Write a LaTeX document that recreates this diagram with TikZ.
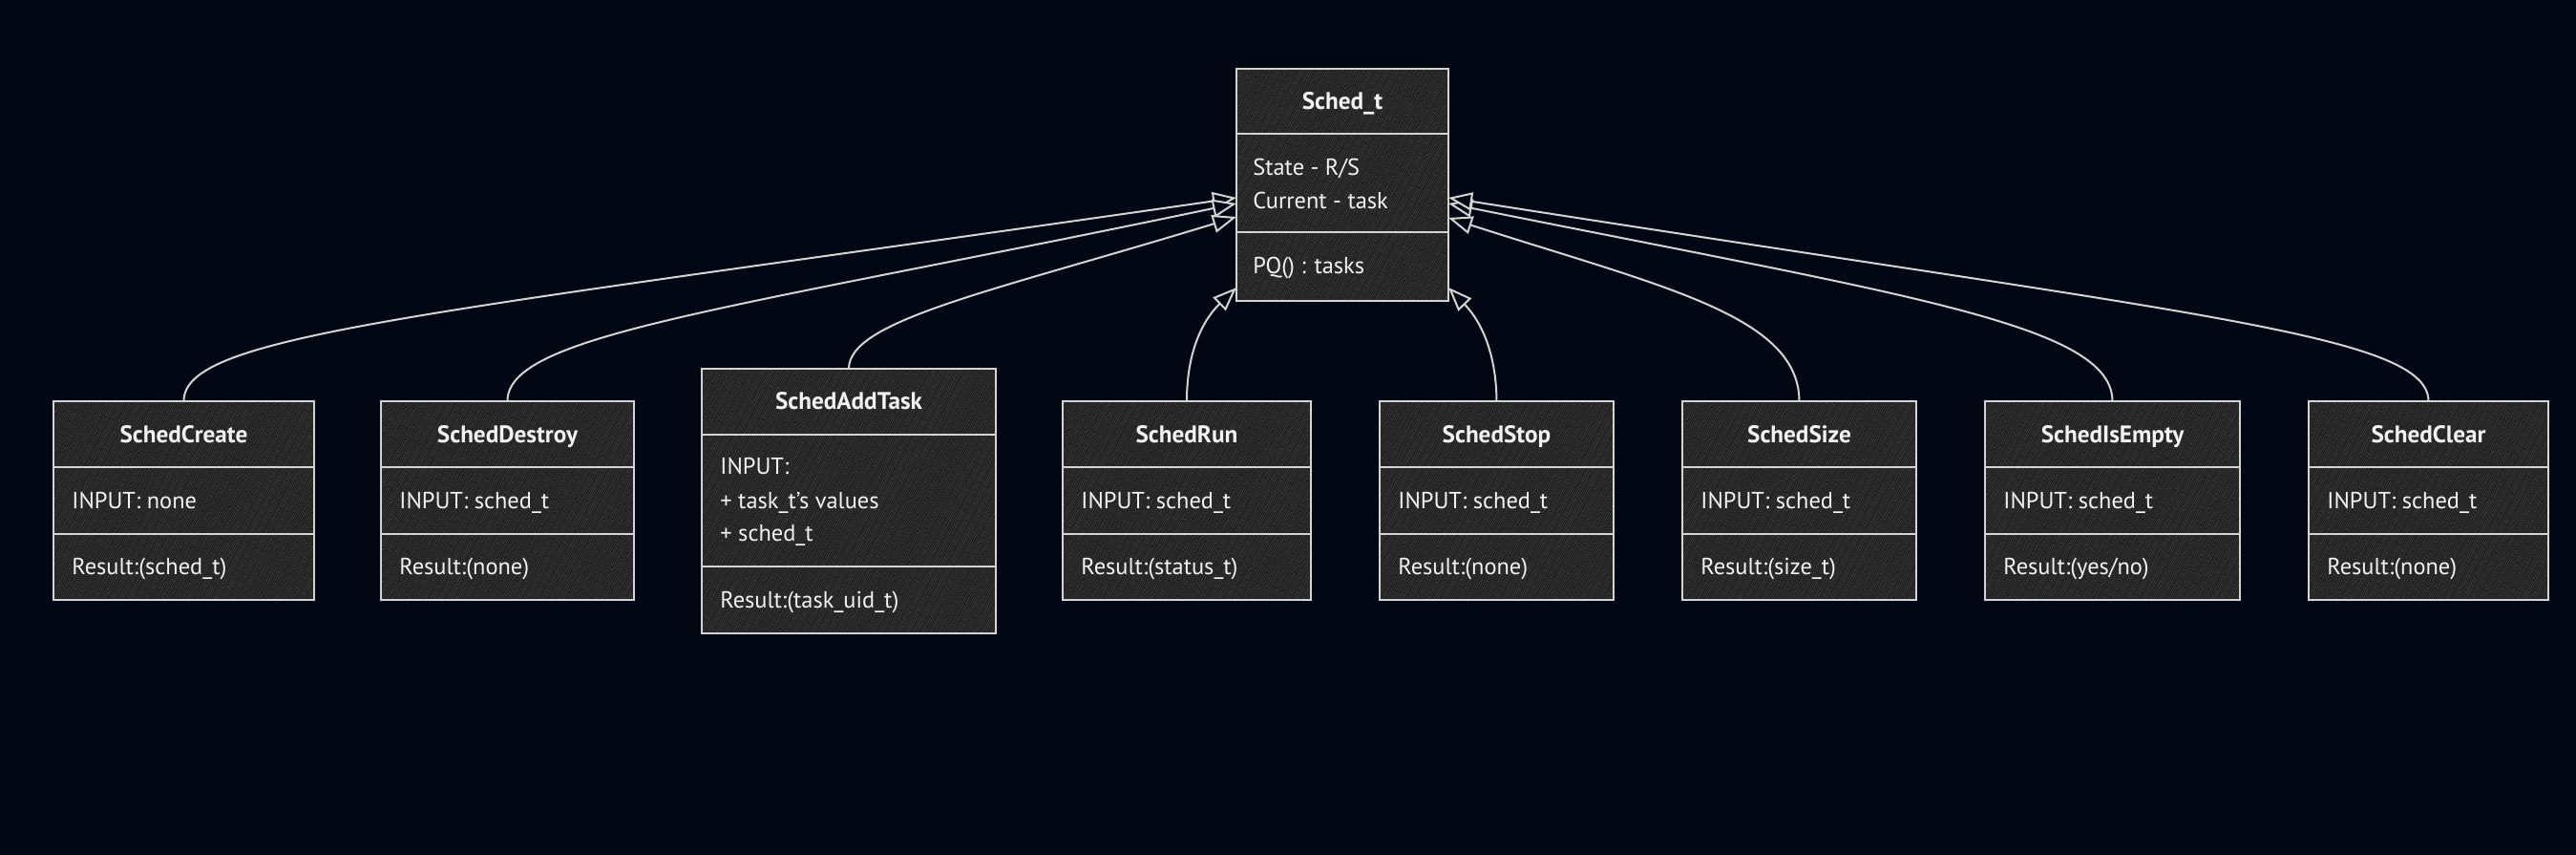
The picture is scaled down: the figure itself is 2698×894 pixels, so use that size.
\documentclass[tikz,border=0pt]{standalone}
\usepackage{fontspec}
\setmainfont{PT Sans}
\usetikzlibrary{arrows.meta,patterns.meta}
\definecolor{bg}{HTML}{020713}
\definecolor{boxfill}{HTML}{272727}
\definecolor{hatch}{HTML}{0E0E0E}
\definecolor{edge}{HTML}{D4D4D4}
\definecolor{ink}{HTML}{F2F2F2}
\newcommand{\fnclass}[6] {
  \node at ({(#2+#3)/2},524) (#1) [classbox, minimum width={(#3-#2)*0.5pt}, minimum height=104pt] {};
  \draw [divider] (#2,489) -- (#3,489);
  \draw [divider] (#2,559) -- (#3,559);
  \node at ({(#2+#3)/2},455) (#1-title) [classtitle] {#4};
  \node at ({#2+19},524) (#1-in) [member] {#5};
  \node at ({#2+19},593) (#1-out) [member] {#6};
}
\newcommand{\inherits}[4] {\draw [inherit] (#1.north) .. controls #3 and #4 .. (#2);}
\begin{document}
\begin{tikzpicture}[x=0.5pt, y=-0.5pt,
  classbox/.style={draw=edge, line width=1.2pt, inner sep=0pt, outer sep=0pt,
    preaction={fill=boxfill}, pattern={Lines[angle=62,distance=4pt,line width=0.6pt]}, pattern color=hatch},
  divider/.style={draw=edge, line width=1.1pt},
  classtitle/.style={text=ink, font=\fontsize{12.6pt}{15pt}\selectfont\bfseries, inner sep=0pt, text height=8.6pt, text depth=0pt},
  member/.style={text=ink, font=\fontsize{12.2pt}{15pt}\selectfont, anchor=west, inner sep=0pt, text height=8.4pt, text depth=0pt},
  inherit/.style={draw=edge, line width=1pt, -{Triangle[length=12.5pt, width=9.5pt, fill=bg]}}]

\useasboundingbox (0,0) rectangle (2698,894);
\fill [bg] (-20,-20) rectangle (2718,914);

\node at (1406,193.5) (sched) [classbox, minimum width=111pt, minimum height=121.5pt] {};
\draw [divider] (1295,140) -- (1517,140);
\draw [divider] (1295,243) -- (1517,243);
\node at (1406,106) (sched-title) [classtitle] {Sched\_t};
\node at (1312,175) (sched-state) [member] {State - R/S};
\node at (1312,210) (sched-current) [member] {Current - task};
\node at (1312,278) (sched-pq) [member] {PQ() : tasks};

\fnclass{create}{56}{329}{SchedCreate}{INPUT: none}{Result:(sched\_t)}
\fnclass{destroy}{399}{664}{SchedDestroy}{INPUT: sched\_t}{Result:(none)}
\fnclass{run}{1113}{1373}{SchedRun}{INPUT: sched\_t}{Result:(status\_t)}
\fnclass{stop}{1445}{1690}{SchedStop}{INPUT: sched\_t}{Result:(none)}
\fnclass{size}{1762}{2007}{SchedSize}{INPUT: sched\_t}{Result:(size\_t)}
\fnclass{isempty}{2079}{2346}{SchedIsEmpty}{INPUT: sched\_t}{Result:(yes/no)}
\fnclass{clear}{2418}{2669}{SchedClear}{INPUT: sched\_t}{Result:(none)}

\node at (889,524.5) (addtask) [classbox, minimum width=154pt, minimum height=138.5pt] {};
\draw [divider] (735,455) -- (1043,455);
\draw [divider] (735,593) -- (1043,593);
\node at (889,420) (addtask-title) [classtitle] {SchedAddTask};
\node at (754,488) (addtask-in) [member] {INPUT:};
\node at (754,524) (addtask-values) [member] {+ task\_t's values};
\node at (754,558) (addtask-sched) [member] {+ sched\_t};
\node at (754,628) (addtask-out) [member] {Result:(task\_uid\_t)};

\inherits{create}{[yshift=-6.75pt]sched.west}{(192,350)}{(440,330)}
\inherits{destroy}{[yshift=-9.75pt]sched.west}{(531,350)}{(760,325)}
\inherits{addtask}{[yshift=-16.75pt]sched.west}{(889,335)}{(1040,305)}
\inherits{run}{[yshift=7pt]sched.south west}{(1243,360)}{(1265,330)}
\inherits{stop}{[yshift=7pt]sched.south east}{(1567,360)}{(1545,330)}
\inherits{size}{[yshift=-17.25pt]sched.east}{(1884,330)}{(1740,300)}
\inherits{isempty}{[yshift=-9.75pt]sched.east}{(2212,340)}{(2000,310)}
\inherits{clear}{[yshift=-6.75pt]sched.east}{(2543,350)}{(2300,330)}

\end{tikzpicture}
\end{document}
